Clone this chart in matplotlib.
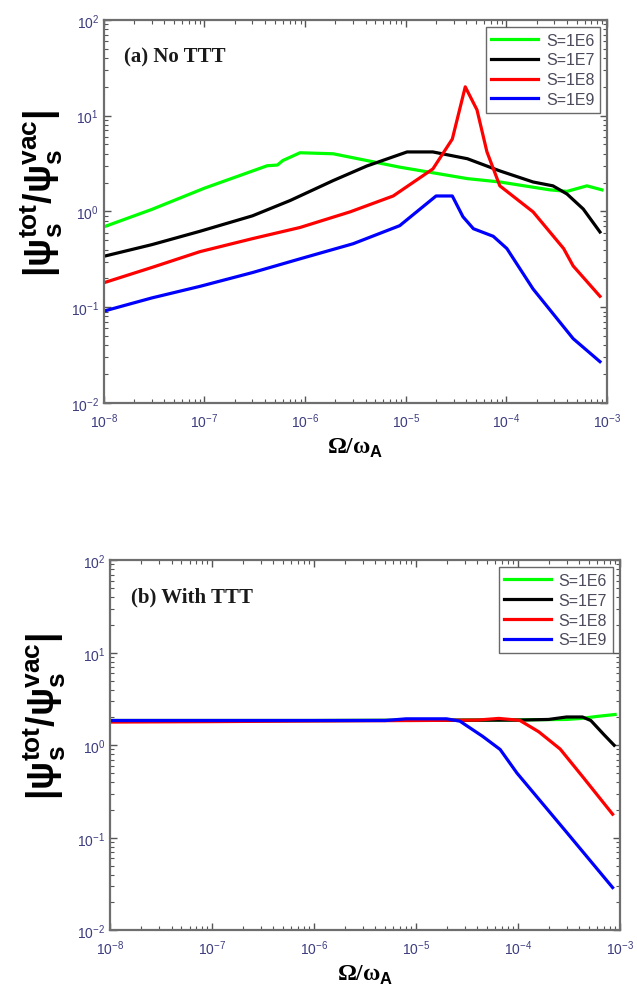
import matplotlib
matplotlib.use("Agg")
import matplotlib.pyplot as plt
from matplotlib.ticker import LogLocator, NullFormatter

plt.rcParams["font.family"] = ["Liberation Sans", "DejaVu Sans"]
plt.rcParams["mathtext.fontset"] = "custom"
plt.rcParams["mathtext.sf"] = "Liberation Sans:bold"

labels = ["S=1E6", "S=1E7", "S=1E8", "S=1E9"]
colors = ["#00ff00", "#000000", "#ff0000", "#0000ff"]

# (a) No TTT
a_x = {
    "S=1E6": [1e-8, 3e-8, 1e-7, 4.2e-7, 5.3e-7, 6.0e-7, 8.9e-7, 1.9e-6, 8.7e-6, 4.1e-5, 8.6e-5, 2.7e-4, 4.0e-4, 6.3e-4, 8.9e-4],
    "S=1E7": [1e-8, 3e-8, 9e-8, 3e-7, 7.1e-7, 1.9e-6, 4.1e-6, 1.03e-5, 1.86e-5, 4.1e-5, 8.6e-5, 1.84e-4, 2.9e-4, 4.0e-4, 5.8e-4, 8.5e-4],
    "S=1E8": [1e-8, 3e-8, 9e-8, 3e-7, 8.9e-7, 2.8e-6, 7.5e-6, 1.86e-5, 2.9e-5, 3.9e-5, 5.1e-5, 6.4e-5, 8.6e-5, 1.84e-4, 3.7e-4, 4.6e-4, 8.5e-4],
    "S=1E9": [1e-8, 3e-8, 9e-8, 3e-7, 8.9e-7, 3e-6, 8.7e-6, 2.0e-5, 2.9e-5, 3.7e-5, 4.7e-5, 7.4e-5, 1.01e-4, 1.84e-4, 4.6e-4, 8.5e-4],
}
a_y = {
    "S=1E6": [0.69, 1.05, 1.75, 3.0, 3.05, 3.4, 4.1, 4.0, 2.9, 2.2, 2.03, 1.68, 1.62, 1.85, 1.68],
    "S=1E7": [0.34, 0.45, 0.62, 0.9, 1.3, 2.1, 2.98, 4.18, 4.18, 3.55, 2.65, 2.03, 1.85, 1.52, 1.06, 0.61],
    "S=1E8": [0.18, 0.26, 0.38, 0.52, 0.68, 0.99, 1.45, 2.78, 5.7, 20.0, 11.5, 4.2, 1.85, 0.99, 0.41, 0.27, 0.13],
    "S=1E9": [0.091, 0.125, 0.165, 0.23, 0.32, 0.46, 0.71, 1.45, 1.45, 0.88, 0.66, 0.55, 0.41, 0.155, 0.047, 0.027],
}

# (b) With TTT
b_x = {
    "S=1E6": [1e-8, 1e-6, 1e-5, 1e-4, 3.0e-4, 4.2e-4, 6.0e-4, 9.0e-4],
    "S=1E7": [1e-8, 1e-6, 1e-5, 1e-4, 2.0e-4, 3.0e-4, 4.3e-4, 5.2e-4, 7.0e-4, 8.8e-4],
    "S=1E8": [1e-8, 1e-7, 1e-6, 1e-5, 4.0e-5, 6.5e-5, 1.04e-4, 1.6e-4, 2.6e-4, 4.3e-4, 8.5e-4],
    "S=1E9": [1e-8, 1e-7, 1e-6, 5.0e-6, 8.0e-6, 2.0e-5, 2.7e-5, 4.5e-5, 6.7e-5, 9.8e-5, 3.0e-4, 8.5e-4],
}
b_y = {
    "S=1E6": [1.85, 1.85, 1.86, 1.88, 1.9, 1.95, 2.05, 2.15],
    "S=1E7": [1.85, 1.85, 1.86, 1.87, 1.9, 2.02, 2.02, 1.85, 1.3, 1.0],
    "S=1E8": [1.78, 1.8, 1.83, 1.85, 1.87, 1.95, 1.86, 1.4, 0.91, 0.46, 0.18],
    "S=1E9": [1.85, 1.85, 1.85, 1.85, 1.93, 1.93, 1.82, 1.25, 0.9, 0.5, 0.115, 0.029],
}

tick_color = "#3c3c80"


def style_axes(ax, title, ylab_pos):
    ax.set_xscale("log")
    ax.set_yscale("log")
    ax.set_xlim(1e-8, 1e-3)
    ax.set_ylim(1e-2, 1e2)
    ax.xaxis.set_minor_locator(LogLocator(base=10, subs=range(2, 10), numticks=20))
    ax.yaxis.set_minor_locator(LogLocator(base=10, subs=range(2, 10), numticks=20))
    ax.xaxis.set_minor_formatter(NullFormatter())
    ax.yaxis.set_minor_formatter(NullFormatter())
    ax.tick_params(which="both", direction="in", top=True, right=True,
                   colors="#555555", labelcolor=tick_color, labelsize=10)
    ax.tick_params(which="major", length=5, width=1)
    ax.tick_params(which="minor", length=3, width=0.8)
    ax.tick_params(axis="x", pad=6)
    for sp in ax.spines.values():
        sp.set_color("#6e6e6e")
        sp.set_linewidth(1.6)
    ax.text(0.04, 0.93, title, transform=ax.transAxes, family="Liberation Serif",
            fontweight="bold", fontsize=15, va="top", ha="left", color="#1a1a1a")
    ax.set_ylabel(r"$\mathdefault{|\psi_s^{tot}/\psi_s^{vac}|}$", fontsize=27,
                  fontweight="bold", va="center")
    ax.yaxis.set_label_coords(*ylab_pos)
    ax.set_xlabel(r"$\mathdefault{\Omega/\omega}_{\mathsf{A}}$", fontsize=17,
                  family="Liberation Serif", fontweight="bold", labelpad=4)
    leg = ax.legend(loc="upper right", fontsize=11.5, frameon=True, fancybox=False,
                    handlelength=2.9, handletextpad=0.5, borderpad=0.35,
                    labelspacing=0.3, borderaxespad=0.45)
    leg.get_frame().set_edgecolor("#444444")
    leg.get_frame().set_linewidth(1.0)
    for t in leg.get_texts():
        t.set_color("#4a4a5a")


fig = plt.figure(figsize=(6.37, 9.95), dpi=100)
ax1 = fig.add_axes([0.163, 0.594, 0.790, 0.385])
ax2 = fig.add_axes([0.173, 0.064, 0.800, 0.372])

for lab, c in zip(labels, colors):
    ax1.plot(a_x[lab], a_y[lab], color=c, lw=2.3, label=lab)
    ax2.plot(b_x[lab], b_y[lab], color=c, lw=2.3, label=lab)

style_axes(ax1, "(a) No TTT", (-0.125, 0.55))
style_axes(ax2, "(b) With TTT", (-0.13, 0.58))

fig.savefig("out.png", dpi=100)
